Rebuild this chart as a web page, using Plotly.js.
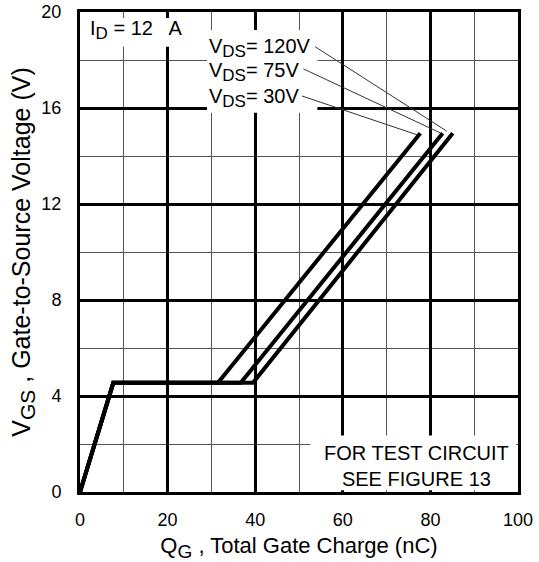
<!DOCTYPE html>
<html>
<head>
<meta charset="utf-8">
<script src="https://cdn.plot.ly/plotly-3.0.1.min.js"></script>
<style>
html,body{margin:0;padding:0;background:#fff;}
#chart{width:539px;height:562px;}
</style>
</head>
<body>
<div id="chart"></div>
<script>
// Gate charge curves (Q_G in nC, V_GS in V)
const seriesNames = ["VDS = 30V", "VDS = 75V", "VDS = 120V"];
const q30  = [0, 7.6, 31.5, 77.7];
const v30  = [0, 4.55, 4.55, 14.95];
const q75  = [0, 7.6, 36.7, 82.8];
const v75  = [0, 4.55, 4.55, 14.95];
const q120 = [0, 7.6, 39.5, 85.1];
const v120 = [0, 4.55, 4.55, 14.95];

const xTicks = [0, 20, 40, 60, 80, 100];
const yTicks = [0, 4, 8, 12, 16, 20];

const FONT = "Liberation Sans, Arial, Helvetica, sans-serif";

function curve(x, y, name) {
  return {x: x, y: y, name: name, type: "scatter", mode: "lines",
          line: {color: "#000", width: 4}, hoverinfo: "skip", showlegend: false};
}

const data = [curve(q30, v30, seriesNames[0]), curve(q75, v75, seriesNames[1]), curve(q120, v120, seriesNames[2])];

const sub = (t) => '<sub><span style="font-size:17px">' + t + '</span></sub>';

function leader(x0, y0, x1, y1) {
  return {type: "line", xref: "x", yref: "y", x0: x0, y0: y0, x1: x1, y1: y1,
          line: {color: "#333", width: 1}, layer: "above"};
}
function whiteBox(x0, x1, y0, y1) {
  return {type: "rect", xref: "x", yref: "y", x0: x0, x1: x1, y0: y0, y1: y1,
          fillcolor: "#fff", line: {width: 0}, layer: "above"};
}

const layout = {
  width: 539, height: 562,
  margin: {l: 80, r: 21, t: 12, b: 70},
  paper_bgcolor: "#fff", plot_bgcolor: "#fff",
  font: {family: FONT, color: "#000", size: 18},
  showlegend: false,
  xaxis: {
    range: [0, 100], tickmode: "array", tickvals: xTicks, ticktext: xTicks.map(String),
    showgrid: true, gridcolor: "#000", gridwidth: 3,
    minor: {dtick: 10, showgrid: true, gridcolor: "#555", gridwidth: 1, ticks: ""},
    showline: true, linecolor: "#000", linewidth: 3, mirror: true,
    ticks: "", zeroline: false, ticklabelstandoff: 9,
    tickfont: {size: 18, family: FONT},
    title: {text: "Q" + '<sub><span style="font-size:19px">G</span></sub>' + " , Total Gate Charge (nC)", font: {size: 22, family: FONT}, standoff: 10}
  },
  yaxis: {
    range: [0, 20], tickmode: "array", tickvals: yTicks, ticktext: yTicks.map(String),
    showgrid: true, gridcolor: "#000", gridwidth: 3,
    minor: {dtick: 2, showgrid: true, gridcolor: "#555", gridwidth: 1, ticks: ""},
    showline: true, linecolor: "#000", linewidth: 3, mirror: true,
    ticks: "", zeroline: false, ticklabelstandoff: 12,
    tickfont: {size: 18, family: FONT},
    title: {text: "V" + '<sub><span style="font-size:21px">GS</span></sub>' + " , Gate-to-Source Voltage (V)", font: {size: 25, family: FONT}, standoff: 4}
  },
  shapes: [
    whiteBox(0.4, 26.3, 18.55, 19.75),
    whiteBox(29.0, 54.2, 15.8, 19.25),
    whiteBox(52.6, 99.6, 0.07, 2.35),
    leader(53.7, 18.55, 83.7, 15.04),
    leader(51.0, 17.63, 82.3, 14.96),
    leader(50.7, 16.5, 77.0, 14.88)
  ],
  annotations: [
    {x: 1.8, y: 19.25, xref: "x", yref: "y", xanchor: "left", yanchor: "middle", showarrow: false,
     text: "I" + sub("D") + " = 12 &nbsp; A", font: {size: 20, family: FONT}},
    {x: 29.0, y: 18.5, xref: "x", yref: "y", xanchor: "left", yanchor: "middle", showarrow: false,
     text: "V" + sub("DS") + "= 120V", font: {size: 20, family: FONT}},
    {x: 29.0, y: 17.5, xref: "x", yref: "y", xanchor: "left", yanchor: "middle", showarrow: false,
     text: "V" + sub("DS") + "= 75V", font: {size: 20, family: FONT}},
    {x: 29.0, y: 16.4, xref: "x", yref: "y", xanchor: "left", yanchor: "middle", showarrow: false,
     text: "V" + sub("DS") + "= 30V", font: {size: 20, family: FONT}},
    {x: 76.8, y: 1.08, xref: "x", yref: "y", xanchor: "center", yanchor: "middle", showarrow: false,
     text: "FOR TEST CIRCUIT<br>SEE FIGURE 13", font: {size: 20, family: FONT}}
  ]
};

Plotly.newPlot("chart", data, layout, {displayModeBar: false, staticPlot: true});
</script>
</body>
</html>
